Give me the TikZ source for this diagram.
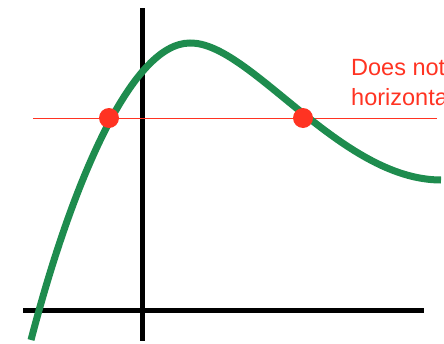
\documentclass[tikz,border=0pt]{standalone}
\usepackage{fontspec}
\setmainfont{Liberation Sans}
\usetikzlibrary{positioning, calc}

\begin{document}
\begin{tikzpicture}[
  x=1pt, y=-1pt,
  font=\fontsize{23.5}{30}\selectfont,
]
\definecolor{ccurve}{HTML}{1E8C4E}   % green graph
\definecolor{cline}{HTML}{FF3322}    % red test line

\useasboundingbox (0,0) rectangle (444,343);
\clip (0,0) rectangle (444,343);

% -------- axes --------
\draw[black, line width=5pt] (23,310) -- (424,310);
\draw[black, line width=5pt] (142,8) -- (142,341);

% -------- horizontal test line --------
\coordinate (hL) at (33,118);
\coordinate (hR) at (437,118);
\draw[cline, line width=0.9pt] (hL) -- (hR);

% -------- graph --------
\coordinate (gStart) at (31,340);
\coordinate (gTop)   at (190,43);
\coordinate (gEnd)   at (441,180);
\draw[ccurve, line width=7pt]
  (gStart) .. controls (70,190) and (130,43) .. (gTop)
           .. controls (250,42) and (340,180) .. (gEnd);

% -------- intersection points --------
\foreach \p/\nm in {(109,118)/dotA, (303,118)/dotB} {
  \node[circle, fill=cline, inner sep=0pt, minimum size=20pt] (\nm) at \p {};
}

% -------- label --------
\node[cline, anchor=north west, inner sep=0pt, align=left] (lbl) at (351,59)
  {Does not\\horizontal};

\end{tikzpicture}
\end{document}
